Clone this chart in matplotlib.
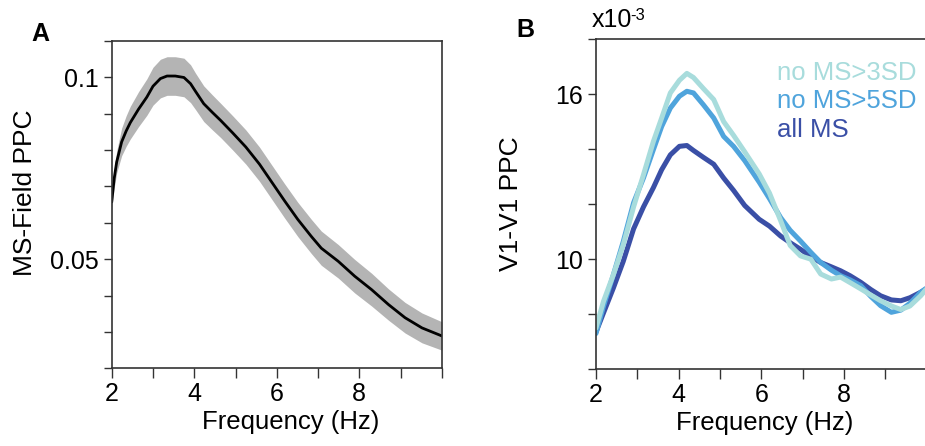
import matplotlib
matplotlib.use("Agg")
import matplotlib.pyplot as plt
import numpy as np

plt.rcParams['font.family'] = ['Liberation Sans', 'DejaVu Sans']

# ---------------- Panel A data ----------------
freq_a = [2.0, 2.06, 2.12, 2.24, 2.35, 2.45, 2.65, 2.85, 3.0, 3.18, 3.34, 3.54, 3.75, 3.91,
          4.03, 4.23, 4.44, 4.64, 4.93, 5.25, 5.58, 5.9, 6.19, 6.51, 6.84, 7.08,
          7.49, 7.89, 8.3, 8.71, 9.11, 9.52, 10.0]
ppc_a = [0.0658, 0.0722, 0.0767, 0.0822, 0.0852, 0.0875, 0.0912, 0.0945, 0.0975, 0.0996, 0.1003,
         0.1003, 0.0999, 0.0982, 0.0961, 0.0927, 0.0903, 0.0881, 0.0847, 0.0808,
         0.0761, 0.0708, 0.0660, 0.0609, 0.0562, 0.0530, 0.0494, 0.0453, 0.0416,
         0.0375, 0.0339, 0.0311, 0.0289]
sem_a = [0.0020, 0.0026, 0.0030, 0.0038, 0.0042, 0.0045, 0.0048, 0.0050, 0.0052, 0.0053, 0.0053,
         0.0053, 0.0053, 0.0052, 0.0050, 0.0049, 0.0048, 0.0047, 0.0047, 0.0047,
         0.0047, 0.0047, 0.0047, 0.0047, 0.0047, 0.0047, 0.0046, 0.0046, 0.0045,
         0.0043, 0.0042, 0.0041, 0.0039]
yticks_a = [0.02, 0.03, 0.04, 0.05, 0.06, 0.07, 0.08, 0.09, 0.10, 0.11]
yticklabels_a = ['', '', '', '0.05', '', '', '', '', '0.1', '']

# ---------------- Panel B data (x10^-3) ----------------
freq_b = [2.0, 2.18, 2.42, 2.66, 2.91, 3.15, 3.39, 3.59, 3.8, 4.02, 4.2, 4.36,
          4.6, 4.85, 5.09, 5.33, 5.6, 5.95, 6.2, 6.47, 6.7, 6.95, 7.2, 7.44,
          7.7, 7.92, 8.15, 8.41, 8.65, 8.89, 9.15, 9.38, 9.6, 9.86, 10.0]
ppc_all_ms = [7.35, 8.04, 8.95, 9.92, 11.1, 11.9, 12.6, 13.25, 13.79, 14.1, 14.13,
              13.95, 13.7, 13.45, 12.95, 12.5, 11.95, 11.45, 11.2, 10.84, 10.6,
              10.36, 10.1, 9.88, 9.72, 9.58, 9.4, 9.16, 8.9, 8.67, 8.52, 8.49,
              8.6, 8.8, 8.92]
ppc_no5sd = [7.3, 8.28, 9.43, 10.64, 12.05, 12.95, 13.98, 14.82, 15.49, 15.92,
             16.1, 16.04, 15.61, 15.13, 14.46, 14.1, 13.58, 12.8, 12.2, 11.51,
             11.05, 10.66, 10.25, 9.88, 9.6, 9.4, 9.25, 9.04, 8.65, 8.31, 8.07,
             8.15, 8.4, 8.8, 8.95]
ppc_no3sd = [7.5, 8.46, 9.43, 10.52, 11.9, 13.07, 14.28, 15.13, 16.04, 16.5,
             16.75, 16.6, 16.2, 15.8, 15.0, 14.5, 13.9, 13.1, 12.4, 11.4, 10.5,
             10.12, 10.0, 9.46, 9.28, 9.35, 9.15, 8.92, 8.7, 8.49, 8.3, 8.17,
             8.3, 8.67, 8.92]
labels_b = ['no MS>3SD', 'no MS>5SD', 'all MS']
yticks_b = [6, 8, 10, 12, 14, 16, 18]
yticklabels_b = ['', '', '10', '', '', '16', '']

xticks = [2, 3, 4, 5, 6, 7, 8, 9, 10]
xticklabels = ['2', '', '4', '', '6', '', '8', '', '']

# ---------------- styles ----------------
c_light = '#a8dcdc'
c_mid = '#4fa4dc'
c_dark = '#3a4fa6'
spine_c = '#333333'
FS_TICK = 18
FS_LAB = 18.5
FS_YLAB = 19

fig = plt.figure(figsize=(9.25, 4.46), dpi=100)
axA = fig.add_axes([0.1208, 0.1742, 0.3568, 0.7345])
axB = fig.add_axes([0.6443, 0.1720, 0.3573, 0.7406])

# Panel A
lo = [m - s for m, s in zip(ppc_a, sem_a)]
hi = [m + s for m, s in zip(ppc_a, sem_a)]
axA.fill_between(freq_a, lo, hi, color='#b4b4b4', lw=0)
axA.plot(freq_a, ppc_a, color='black', lw=2.0)
axA.set_xlim(2, 10)
axA.set_ylim(0.02, 0.11)
axA.set_yticks(yticks_a)
axA.set_yticklabels(yticklabels_a)

# Panel B
axB.plot(freq_b, ppc_all_ms, color=c_dark, lw=3.6, solid_capstyle='round')
axB.plot(freq_b, ppc_no5sd, color=c_mid, lw=3.6, solid_capstyle='round')
axB.plot(freq_b, ppc_no3sd, color=c_light, lw=3.6, solid_capstyle='round')
axB.set_xlim(2, 10)
axB.set_ylim(6, 18)
axB.set_yticks(yticks_b)
axB.set_yticklabels(yticklabels_b)
axB.spines['right'].set_visible(False)

for ax in (axA, axB):
    ax.set_xticks(xticks)
    ax.set_xticklabels(xticklabels)
    for sp in ax.spines.values():
        sp.set_color(spine_c)
        sp.set_linewidth(1.2)
    ax.tick_params(axis='both', direction='out', colors=spine_c, labelcolor='black',
                   labelsize=FS_TICK, width=1.0)
    ax.tick_params(axis='y', length=5.5, pad=4)
    ax.tick_params(axis='x', length=7, pad=3)
    ax.set_xlabel('Frequency (Hz)', fontsize=FS_LAB)
    ax.xaxis.label.set_va('baseline')

axA.xaxis.set_label_coords(0.542, -0.186)
axB.xaxis.set_label_coords(0.509, -0.184)

axA.set_ylabel('MS-Field PPC', fontsize=FS_YLAB)
axA.yaxis.label.set_va('center')
axA.yaxis.set_label_coords(-0.262, 0.537)
axB.set_ylabel('V1-V1 PPC', fontsize=FS_YLAB)
axB.yaxis.label.set_va('center')
axB.yaxis.set_label_coords(-0.258, 0.5)

# legend text
for lab, col, yy in zip(labels_b, [c_light, c_mid, c_dark], [0.876, 0.792, 0.704]):
    axB.text(0.548, yy, lab, color=col, fontsize=FS_LAB, transform=axB.transAxes,
             ha='left', va='baseline')

# exponent label and panel letters
fig.text(591.5 / 925, 1 - 26.7 / 446, 'x10', fontsize=FS_TICK, ha='left', va='baseline')
fig.text(630.5 / 925, 1 - 20.5 / 446, '-3', fontsize=12, ha='left', va='baseline')
fig.text(40 / 925, 1 - 40.7 / 446, 'A', fontsize=18, fontweight='bold', ha='center', va='baseline')
fig.text(525.5 / 925, 1 - 37.3 / 446, 'B', fontsize=18, fontweight='bold', ha='center', va='baseline')

fig.savefig('out.png', dpi=100)
